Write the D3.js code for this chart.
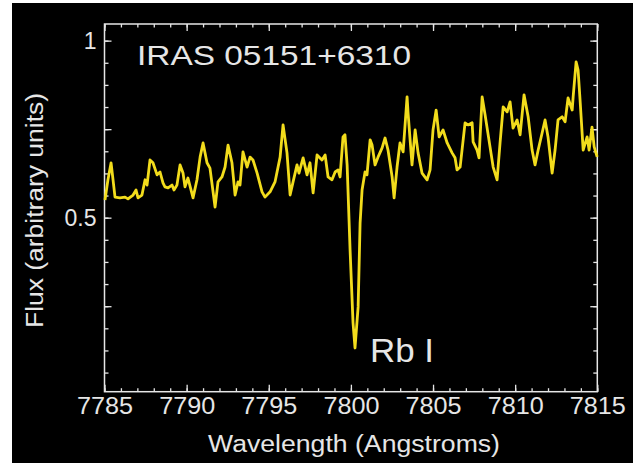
<!DOCTYPE html>
<html>
<head>
<meta charset="utf-8">
<script src="https://cdn.jsdelivr.net/npm/d3@7"></script>
<style>
  html, body { margin: 0; padding: 0; background: #fff; }
  svg { display: block; font-family: "Liberation Sans", Arial, sans-serif; }
</style>
</head>
<body>
<svg id="chart" width="638" height="463"></svg>
<script>
// spectrum: wavelength (Angstroms) and flux (arbitrary units)
const wavelength = [
  7785.03, 7785.21, 7785.40, 7785.52, 7785.64, 7785.94, 7786.25, 7786.43, 7786.74, 7786.92,
  7787.04, 7787.28, 7787.47, 7787.59, 7787.77, 7787.95, 7788.20, 7788.38, 7788.56, 7788.68,
  7788.87, 7789.11, 7789.23, 7789.41, 7789.60, 7789.78, 7789.90, 7790.08, 7790.27, 7790.39,
  7790.63, 7790.82, 7791.00, 7791.24, 7791.42, 7791.73, 7791.91, 7792.15, 7792.34, 7792.52,
  7792.76, 7792.95, 7793.13, 7793.25, 7793.43, 7793.68, 7793.86, 7794.04, 7794.29, 7794.59,
  7794.77, 7795.08, 7795.38, 7795.69, 7795.87, 7796.11, 7796.30, 7796.48, 7796.72, 7796.84,
  7797.09, 7797.33, 7797.51, 7797.70, 7797.94, 7798.24, 7798.43, 7798.61, 7798.85, 7799.04,
  7799.22, 7799.34, 7799.52, 7799.64, 7799.77, 7799.95, 7800.13, 7800.25, 7800.44, 7800.56,
  7800.68, 7800.86, 7800.98, 7801.17, 7801.29, 7801.47, 7801.65, 7801.90, 7802.08, 7802.26,
  7802.51, 7802.63, 7802.81, 7802.99, 7803.18, 7803.42, 7803.48, 7803.72, 7803.91, 7804.09,
  7804.33, 7804.64, 7804.82, 7805.00, 7805.19, 7805.37, 7805.61, 7805.86, 7806.16, 7806.34,
  7806.46, 7806.65, 7806.95, 7807.13, 7807.38, 7807.44, 7807.68, 7807.80, 7807.99, 7808.17,
  7808.47, 7808.66, 7808.90, 7809.08, 7809.27, 7809.51, 7809.69, 7809.87, 7810.12, 7810.30,
  7810.54, 7810.79, 7811.03, 7811.21, 7811.40, 7811.64, 7811.82, 7812.00, 7812.25, 7812.43,
  7812.61, 7812.86, 7813.04, 7813.22, 7813.47, 7813.53, 7813.71, 7813.83, 7813.95, 7814.14,
  7814.38, 7814.50, 7814.68, 7814.81, 7814.99
];
const flux = [
  0.550, 0.607, 0.655, 0.607, 0.558, 0.556, 0.558, 0.553, 0.564, 0.578,
  0.556, 0.564, 0.607, 0.592, 0.663, 0.655, 0.621, 0.629, 0.598, 0.587,
  0.584, 0.592, 0.578, 0.592, 0.649, 0.626, 0.587, 0.612, 0.578, 0.556,
  0.607, 0.671, 0.711, 0.655, 0.640, 0.530, 0.601, 0.615, 0.643, 0.705,
  0.655, 0.564, 0.601, 0.592, 0.686, 0.643, 0.671, 0.663, 0.626, 0.573,
  0.558, 0.573, 0.601, 0.671, 0.762, 0.683, 0.564, 0.601, 0.649, 0.626,
  0.669, 0.621, 0.655, 0.570, 0.677, 0.663, 0.677, 0.615, 0.607, 0.629,
  0.635, 0.615, 0.728, 0.734, 0.649, 0.409, 0.203, 0.132, 0.248, 0.485,
  0.578, 0.629, 0.621, 0.720, 0.705, 0.649, 0.671, 0.697, 0.725, 0.691,
  0.615, 0.556, 0.643, 0.711, 0.686, 0.841, 0.796, 0.649, 0.748, 0.683,
  0.626, 0.607, 0.635, 0.748, 0.804, 0.728, 0.748, 0.711, 0.683, 0.669,
  0.635, 0.643, 0.768, 0.762, 0.768, 0.714, 0.691, 0.669, 0.841, 0.790,
  0.700, 0.643, 0.607, 0.711, 0.813, 0.799, 0.827, 0.753, 0.776, 0.734,
  0.847, 0.785, 0.691, 0.649, 0.691, 0.739, 0.776, 0.728, 0.626, 0.691,
  0.776, 0.785, 0.771, 0.838, 0.804, 0.841, 0.940, 0.917, 0.833, 0.691,
  0.728, 0.691, 0.756, 0.700, 0.672
];

const xTickLabels = [7785, 7790, 7795, 7800, 7805, 7810, 7815];
const xMinorTicks = d3.range(7785, 7816, 1);
const yTickLabels = [0.5, 1];
const yMinorTicks = d3.range(1, 17).map((i) => i * 0.0625);
const yMajorTicks = [0.25, 0.5, 0.75, 1];

const title = 'IRAS 05151+6310';
const lineLabel = 'Rb I';
const xTitle = 'Wavelength (Angstroms)';
const yTitle = 'Flux (arbitrary units)';

const plot = { left: 104.5, top: 24, right: 597.3, bottom: 391.7 };
const fg = '#e6e6e6';

const svg = d3.select('#chart');

svg.append('rect')
  .attr('x', 12).attr('y', 3)
  .attr('width', 621).attr('height', 460)
  .attr('fill', '#000');

const x = d3.scaleLinear().domain([7785, 7815]).range([plot.left, plot.right]);
const y = d3.scaleLinear().domain([0.0085, 1.047]).range([plot.bottom, plot.top]);

const styleAxis = (g) => {
  g.select('.domain').remove();
  g.selectAll('line').attr('stroke', fg).attr('stroke-width', 1.3);
  g.selectAll('text')
    .attr('fill', fg)
    .style('font-size', '23px');
};

// inward minor / major ticks on all four sides
svg.append('g')
  .attr('transform', `translate(0,${plot.bottom})`)
  .call(d3.axisBottom(x).tickValues(xMinorTicks).tickSize(-3.5).tickSizeOuter(0).tickFormat(''))
  .call(styleAxis);
svg.append('g')
  .attr('transform', `translate(0,${plot.bottom})`)
  .call(d3.axisBottom(x).tickValues(xTickLabels).tickSize(-7).tickSizeOuter(0).tickPadding(6).tickFormat(d3.format('d')))
  .call(styleAxis)
  .call((g) => g.selectAll('text')
    .attr('textLength', 56)
    .attr('lengthAdjust', 'spacingAndGlyphs'));
svg.append('g')
  .attr('transform', `translate(0,${plot.top})`)
  .call(d3.axisTop(x).tickValues(xMinorTicks).tickSize(-3.5).tickSizeOuter(0).tickFormat(''))
  .call(styleAxis);
svg.append('g')
  .attr('transform', `translate(0,${plot.top})`)
  .call(d3.axisTop(x).tickValues(xTickLabels).tickSize(-7).tickSizeOuter(0).tickFormat(''))
  .call(styleAxis);

svg.append('g')
  .attr('transform', `translate(${plot.left},0)`)
  .call(d3.axisLeft(y).tickValues(yMinorTicks).tickSize(-4).tickSizeOuter(0).tickFormat(''))
  .call(styleAxis);
svg.append('g')
  .attr('transform', `translate(${plot.left},0)`)
  .call(d3.axisLeft(y).tickValues(yMajorTicks).tickSize(-7).tickSizeOuter(0).tickPadding(8)
    .tickFormat((d) => (yTickLabels.includes(d) ? d3.format('')(d) : '')))
  .call(styleAxis);
svg.append('g')
  .attr('transform', `translate(${plot.right},0)`)
  .call(d3.axisRight(y).tickValues(yMinorTicks).tickSize(-4).tickSizeOuter(0).tickFormat(''))
  .call(styleAxis);
svg.append('g')
  .attr('transform', `translate(${plot.right},0)`)
  .call(d3.axisRight(y).tickValues(yMajorTicks).tickSize(-7).tickSizeOuter(0).tickFormat(''))
  .call(styleAxis);

svg.append('rect')
  .attr('x', plot.left).attr('y', plot.top)
  .attr('width', plot.right - plot.left).attr('height', plot.bottom - plot.top)
  .attr('fill', 'none')
  .attr('stroke', fg)
  .attr('stroke-width', 1.5);

const spectrum = wavelength.map((w, i) => ({ w: w, f: flux[i] }));

const line = d3.line()
  .x((d) => x(d.w))
  .y((d) => y(d.f));

svg.append('path')
  .datum(spectrum)
  .attr('fill', 'none')
  .attr('stroke', '#f2dc1c')
  .attr('stroke-width', 2.8)
  .attr('stroke-linejoin', 'round')
  .attr('d', line);

svg.append('text')
  .attr('x', 137).attr('y', 65)
  .attr('fill', fg)
  .attr('textLength', 274)
  .attr('lengthAdjust', 'spacingAndGlyphs')
  .style('font-size', '28px')
  .text(title);

svg.append('text')
  .attr('x', 370).attr('y', 361.5)
  .attr('fill', fg)
  .attr('textLength', 64)
  .attr('lengthAdjust', 'spacingAndGlyphs')
  .style('font-size', '34px')
  .text(lineLabel);

svg.append('text')
  .attr('x', 208).attr('y', 452)
  .attr('fill', fg)
  .attr('textLength', 292)
  .attr('lengthAdjust', 'spacingAndGlyphs')
  .style('font-size', '23px')
  .text(xTitle);

svg.append('text')
  .attr('transform', 'translate(43,328) rotate(-90)')
  .attr('fill', fg)
  .attr('textLength', 235)
  .attr('lengthAdjust', 'spacingAndGlyphs')
  .style('font-size', '23px')
  .text(yTitle);
</script>
</body>
</html>
